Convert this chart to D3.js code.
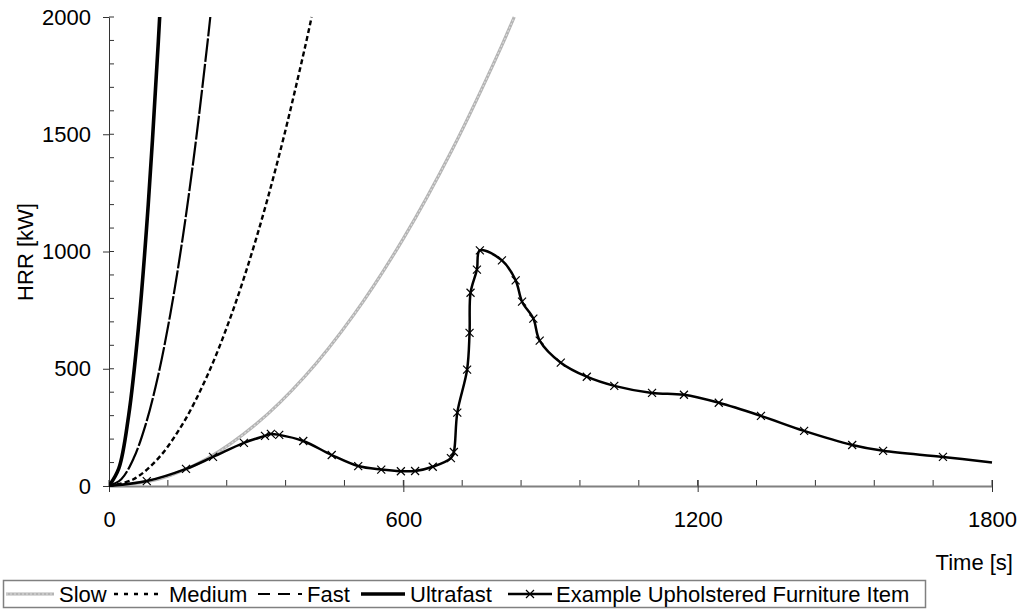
<!DOCTYPE html>
<html><head><meta charset="utf-8">
<script src="https://cdn.jsdelivr.net/npm/d3@7"></script>
<style>
html,body{margin:0;padding:0;background:#fff;}
text{font-family:"Liberation Sans",Arial,sans-serif;fill:#000;}
</style></head>
<body>
<svg id="chart" width="1019" height="613"></svg>
<script>
// ---- data ----
const ultrafastT = [0, 20, 40, 60, 80, 100, 103.3];
const ultrafastQ = [0, 75, 300, 675, 1200, 1876, 2000];
const fastT = [0, 25, 50, 75, 100, 125, 150, 175, 200, 206.5];
const fastQ = [0, 29, 117, 264, 469, 733, 1055, 1436, 1876, 2000];
const mediumT = [0, 50, 100, 150, 200, 250, 300, 350, 400, 413];
const mediumQ = [0, 29, 117, 264, 469, 733, 1055, 1436, 1875, 2000];
const slowT = [0, 100, 200, 300, 400, 500, 600, 700, 800, 826];
const slowQ = [0, 29, 117, 264, 469, 733, 1055, 1436, 1875, 2000];
const itemT = [0, 77, 157, 212, 275, 318, 330, 347, 396, 454, 508, 555, 595, 624, 660, 697, 703, 710, 730, 735, 737, 750, 756, 801, 829, 842, 865, 878, 921, 974, 1030, 1107, 1172, 1243, 1329, 1417, 1515, 1578, 1700, 1800];
const itemQ = [0, 21, 73, 124, 184, 214, 222, 218, 192, 132, 85, 70, 63, 64, 82, 119, 145, 313, 496, 653, 824, 923, 1005, 962, 877, 786, 714, 620, 526, 466, 427, 397, 389, 355, 299, 235, 175, 150, 124, 100];
const xTicks = [0, 600, 1200, 1800];
const yTicks = [0, 500, 1000, 1500, 2000];
const legendLabels = ["Slow", "Medium", "Fast", "Ultrafast", "Example Upholstered Furniture Item"];

// ---- layout ----
const svg = d3.select("#chart");
const L = 109, R = 992, T = 17, B = 486;
const FONT = 22;
const x = d3.scaleLinear().domain([0, 1800]).range([L, R]);
const y = d3.scaleLinear().domain([0, 2000]).range([B, T]);

svg.append("defs").append("clipPath").attr("id", "clip")
  .append("rect").attr("x", L).attr("y", T - 1).attr("width", R - L + 2).attr("height", B - T + 2);

const styles = [
  {stroke: "#b4b4b4", width: 3.2, dash: null, over: true},
  {stroke: "#000", width: 2.4, dash: "5,3"},
  {stroke: "#000", width: 2.2, dash: "24,2"},
  {stroke: "#000", width: 3.6, dash: null},
  {stroke: "#000", width: 2.5, dash: null}
];

const series = [
  d3.zip(slowT, slowQ),
  d3.zip(mediumT, mediumQ),
  d3.zip(fastT, fastQ),
  d3.zip(ultrafastT, ultrafastQ),
  d3.zip(itemT, itemQ)
];

const line = d3.line().x(d => x(d[0])).y(d => y(d[1])).curve(d3.curveCatmullRom.alpha(0.5));

// ---- axes ----
const yMinor = d3.range(0, 2001, 100);
svg.append("g").selectAll("line").data(yMinor).join("line")
  .attr("x1", L).attr("x2", L + 5).attr("y1", d => y(d)).attr("y2", d => y(d))
  .attr("stroke", "#333").attr("stroke-width", 1);
const yAxis = svg.append("g").attr("transform", `translate(${L},0)`)
  .call(d3.axisLeft(y).tickValues(yTicks).tickFormat(d3.format("d")).tickSize(6).tickPadding(12).tickSizeOuter(0));
yAxis.select(".domain").attr("stroke", "#333");
yAxis.selectAll(".tick line").attr("stroke", "#333");
yAxis.selectAll("text").attr("font-size", FONT).attr("font-family", "Liberation Sans, Arial, sans-serif").attr("fill", "#000");

const xMinor = d3.range(0, 1801, 120);
svg.append("g").selectAll("line").data(xMinor).join("line")
  .attr("x1", d => x(d)).attr("x2", d => x(d)).attr("y1", B).attr("y2", B - 6)
  .attr("stroke", "#333").attr("stroke-width", 1);
const xAxis = svg.append("g").attr("transform", `translate(0,${B})`)
  .call(d3.axisBottom(x).tickValues(xTicks).tickFormat(d3.format("d")).tickSize(6).tickPadding(19).tickSizeOuter(0));
xAxis.select(".domain").attr("stroke", "#808080").attr("stroke-width", 2);
xAxis.selectAll(".tick line").attr("stroke", "#333").attr("y1", -6);
xAxis.selectAll("text").attr("font-size", FONT).attr("font-family", "Liberation Sans, Arial, sans-serif").attr("fill", "#000");

// axis titles
svg.append("text").attr("transform", "translate(33,252) rotate(-90)")
  .attr("text-anchor", "middle").attr("font-size", FONT).text("HRR [kW]");
svg.append("text").attr("x", 1013).attr("y", 570)
  .attr("text-anchor", "end").attr("font-size", FONT).text("Time [s]");

// ---- series ----
const plot = svg.append("g").attr("clip-path", "url(#clip)");
series.forEach((s, i) => {
  const st = styles[i];
  plot.append("path").datum(s).attr("d", line)
    .attr("fill", "none").attr("stroke", st.stroke).attr("stroke-width", st.width)
    .attr("stroke-dasharray", st.dash).attr("stroke-linejoin", "round");
  if (st.over) {
    plot.append("path").datum(s).attr("d", line)
      .attr("fill", "none").attr("stroke", "#dcdcdc").attr("stroke-width", 1.2)
      .attr("stroke-dasharray", "2,2");
  }
});
const mk = series[4].slice(0, -1);
const ms = 4;
plot.append("g").selectAll("path").data(mk).join("path")
  .attr("d", d => `M${x(d[0]) - ms},${y(d[1]) - ms}L${x(d[0]) + ms},${y(d[1]) + ms}M${x(d[0]) - ms},${y(d[1]) + ms}L${x(d[0]) + ms},${y(d[1]) - ms}`)
  .attr("stroke", "#000").attr("stroke-width", 1.2).attr("fill", "none");

// ---- legend ----
const lg = svg.append("g");
const boxY = 580;
lg.append("rect").attr("x", 3.5).attr("y", boxY + 0.5).attr("width", 922).attr("height", 27)
  .attr("fill", "#fff").attr("stroke", "#808080").attr("stroke-width", 1.5);
const symX = [6, 114, 258, 361, 508];
const textX = [59, 169, 307, 410, 556];
const symW = [48, 46, 44, 44, 44];
const ly = boxY + 14;
legendLabels.forEach((lab, i) => {
  const st = styles[i];
  const x0 = symX[i];
  lg.append("line").attr("x1", x0).attr("x2", x0 + symW[i]).attr("y1", ly).attr("y2", ly)
    .attr("stroke", st.stroke).attr("stroke-width", st.width)
    .attr("stroke-dasharray", i === 1 ? "4,6" : (i === 2 ? "12,8" : st.dash));
  if (st.over) {
    lg.append("line").attr("x1", x0).attr("x2", x0 + symW[i]).attr("y1", ly).attr("y2", ly)
      .attr("stroke", "#dcdcdc").attr("stroke-width", 1.2).attr("stroke-dasharray", "2,2");
  }
  if (i === 4) {
    const cx = x0 + symW[i] / 2;
    lg.append("path").attr("d", `M${cx - 4},${ly - 4}L${cx + 4},${ly + 4}M${cx - 4},${ly + 4}L${cx + 4},${ly - 4}`)
      .attr("stroke", "#000").attr("stroke-width", 1.2);
  }
  lg.append("text").attr("x", textX[i]).attr("y", ly + 8).attr("font-size", FONT).text(lab);
});
</script>
</body></html>
